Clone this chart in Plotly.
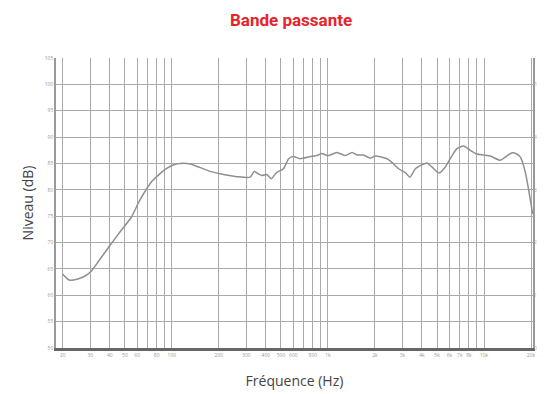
import numpy as np
import plotly.graph_objects as go

# frequency response
freq = [20, 22, 25, 28, 30.5, 34, 40, 47, 55, 62, 75, 92, 104, 113, 131, 152, 176, 214,
        261, 318, 337, 359, 377, 406, 433, 470, 519, 560, 602, 663, 770, 850, 914, 986,
        1010, 1140, 1295, 1430, 1540, 1690, 1870, 2010, 2390, 2570, 2840, 3120, 3350,
        3630, 3900, 4310, 4650, 5130, 5640, 6080, 6700, 7400, 8160, 9000, 9940, 10980,
        12700, 13700, 15000, 16200, 17100, 18400, 20500]
level = [64.0, 62.9, 63.1, 63.7, 64.6, 66.5, 69.4, 72.2, 74.8, 77.9, 81.7, 84.0, 84.8,
         85.0, 84.9, 84.2, 83.5, 82.9, 82.5, 82.4, 83.5, 83.0, 82.7, 82.9, 82.1, 83.3,
         84.0, 85.9, 86.3, 85.9, 86.3, 86.5, 86.9, 86.5, 86.5, 87.1, 86.5, 87.1, 86.6,
         86.6, 86.0, 86.4, 85.9, 85.2, 84.0, 83.3, 82.4, 84.0, 84.6, 85.1, 84.3, 83.2,
         84.3, 85.9, 87.8, 88.3, 87.5, 86.8, 86.6, 86.4, 85.6, 86.2, 87.0, 86.8, 86.2,
         83.3, 75.4]

x_grid = [20, 30, 40, 50, 60, 70, 80, 90, 100, 200, 300, 400, 500, 600, 700, 800, 900,
          1000, 2000, 3000, 4000, 5000, 6000, 7000, 8000, 9000, 10000, 20000]
x_labels = ["20", "30", "40", "50", "60", "", "80", "", "100", "200", "300", "400", "500",
            "600", "", "800", "", "1k", "2k", "3k", "4k", "5k", "6k", "7k", "8k", "", "10k", "20k"]
y_ticks = [50, 55, 60, 65, 70, 75, 80, 85, 90, 95, 100, 105]
y2_ticks = [50, 60, 70, 80, 90, 100]
y2_labels = ["0", "1", "2", "3", "4", "5"]

fig = go.Figure(go.Scatter(x=freq, y=level, mode="lines",
    line=dict(color="#8f8f8f", width=1.5, shape="spline", smoothing=0.6),
    showlegend=False, hoverinfo="skip"))

fig.update_layout(
    width=544, height=394,
    template="simple_white",
    paper_bgcolor="white", plot_bgcolor="white",
    margin=dict(l=56, r=11, t=58, b=46, autoexpand=False),
    title=dict(text="<b>Bande passante</b>", x=0.535, xanchor="center",
               y=0.949, yanchor="middle", automargin=False,
               font=dict(family="Roboto", size=17, color="#e8232b")),
    xaxis=dict(
        type="log", range=[np.log10(18.1), np.log10(20600)],
        tickvals=x_grid, ticktext=x_labels, automargin=False,
        tickfont=dict(size=5, color="#999999"), ticks="",
        showgrid=True, gridcolor="#aaaaaa", gridwidth=1.4,
        showline=True, linecolor="#666666", linewidth=2.5, mirror=False,
        title=dict(text="Fréquence (Hz)", standoff=20,
                   font=dict(family="Open Sans", size=14, color="#444444")),
    ),
    yaxis=dict(
        range=[50, 105], tickvals=y_ticks, automargin=False,
        tickfont=dict(size=5, color="#999999"), ticks="",
        showgrid=True, gridcolor="#aaaaaa", gridwidth=1.4, zeroline=False,
        showline=True, linecolor="#9a9a9a", linewidth=1.5, mirror=True,
        title=dict(text="Niveau (dB)", standoff=8,
                   font=dict(family="Open Sans", size=14, color="#444444")),
    ),
    yaxis2=dict(
        overlaying="y", side="right", range=[50, 105], automargin=False,
        tickvals=y2_ticks, ticktext=y2_labels,
        tickfont=dict(size=5, color="#aaaaaa"), ticks="",
        showgrid=False, showline=False, zeroline=False,
    ),
)
fig.add_trace(go.Scatter(x=[freq[0]], y=[level[0]], yaxis="y2", mode="markers",
    marker=dict(opacity=0), showlegend=False, hoverinfo="skip"))

fig.write_html("out.html", config={"displayModeBar": False},
               post_script="document.body.style.margin='0';")
